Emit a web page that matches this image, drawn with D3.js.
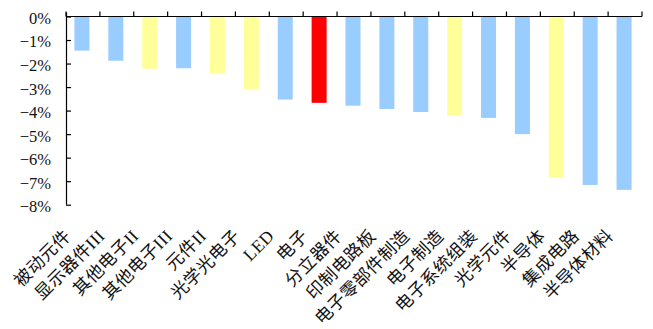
<!DOCTYPE html>
<html>
<head>
<meta charset="utf-8">
<script src="https://cdn.jsdelivr.net/npm/d3@7"></script>
<style>
  html, body { margin: 0; padding: 0; background: #fff; }
  svg text { font-family: "Liberation Serif", "DejaVu Serif", "Noto Sans CJK SC", serif; fill: #111; }
</style>
</head>
<body>
<svg id="chart" width="653" height="329"></svg>
<script>
// Industry sub-sectors and their percentage change
const categories = ["被动元件", "显示器件III", "其他电子II", "其他电子III", "元件II", "光学光电子", "LED", "电子",
  "分立器件", "印制电路板", "电子零部件制造", "电子制造", "电子系统组装", "光学元件", "半导体", "集成电路", "半导体材料"];
const values = [-1.45, -1.88, -2.22, -2.2, -2.42, -3.08, -3.53, -3.67,
  -3.79, -3.93, -4.06, -4.21, -4.31, -5.0, -6.85, -7.16, -7.37];
// Bar group: 0 = sub-sector, 1 = first-level sector, 2 = the sector itself
const groups = [0, 0, 1, 0, 1, 1, 0, 2, 0, 0, 0, 1, 0, 0, 1, 0, 0];
const groupColors = ["#99ccff", "#ffff99", "#ff0000"];
const yTicks = [0, -1, -2, -3, -4, -5, -6, -7, -8];

const svg = d3.select("#chart");
const plotLeft = 66, plotRight = 642, plotTop = 16.5, plotBottom = 204.7;

const x = d3.scaleBand().domain(categories).range([plotLeft, plotRight]).paddingInner(0).paddingOuter(0);
const y = d3.scaleLinear().domain([0, -8]).range([plotTop, plotBottom]);
const barW = 15;

// bars
svg.append("g").selectAll("rect").data(categories).join("rect")
  .attr("x", d => x(d) + x.bandwidth() / 2 - barW / 2 - 1)
  .attr("y", y(0))
  .attr("width", barW)
  .attr("height", (d, i) => y(values[i]) - y(0))
  .attr("fill", (d, i) => groupColors[groups[i]]);

// y axis with inward ticks
const yAxis = svg.append("g").attr("transform", `translate(${plotLeft},0)`)
  .call(d3.axisLeft(y).tickValues(yTicks).tickSizeInner(-5).tickSizeOuter(0).tickPadding(15)
    .tickFormat(d => (d < 0 ? "\u2212" + Math.abs(d) : d) + "%"));
yAxis.select(".domain").attr("d", `M0.5,${plotTop - 4}V${plotBottom}`);
yAxis.selectAll("line").attr("stroke", "#000").attr("stroke-width", 1.2);
yAxis.selectAll(".domain").attr("stroke", "#000").attr("stroke-width", 1.2);
yAxis.selectAll("text").attr("font-size", 16.5).attr("dy", "0.42em");

// x axis along zero line, ticks at category boundaries
const bounds = categories.map(c => x(c)).concat([plotRight]);
const xAxis = svg.append("g");
xAxis.append("line").attr("x1", plotLeft).attr("x2", plotRight).attr("y1", y(0)).attr("y2", y(0))
  .attr("stroke", "#000").attr("stroke-width", 1.2);
xAxis.selectAll("line.tick").data(bounds).join("line").attr("class", "tick")
  .attr("x1", d => d).attr("x2", d => d).attr("y1", y(0)).attr("y2", y(0) - 5)
  .attr("stroke", "#000").attr("stroke-width", 1.2);

// rotated category labels below the plot
svg.append("g").selectAll("text").data(categories).join("text")
  .attr("transform", d => `translate(${x(d) + x.bandwidth() / 2 - 11},${237}) rotate(-45)`)
  .attr("text-anchor", "end")
  .attr("font-size", 17.5)
  .attr("letter-spacing", 0.4)
  .text(d => d);
</script>
</body>
</html>
